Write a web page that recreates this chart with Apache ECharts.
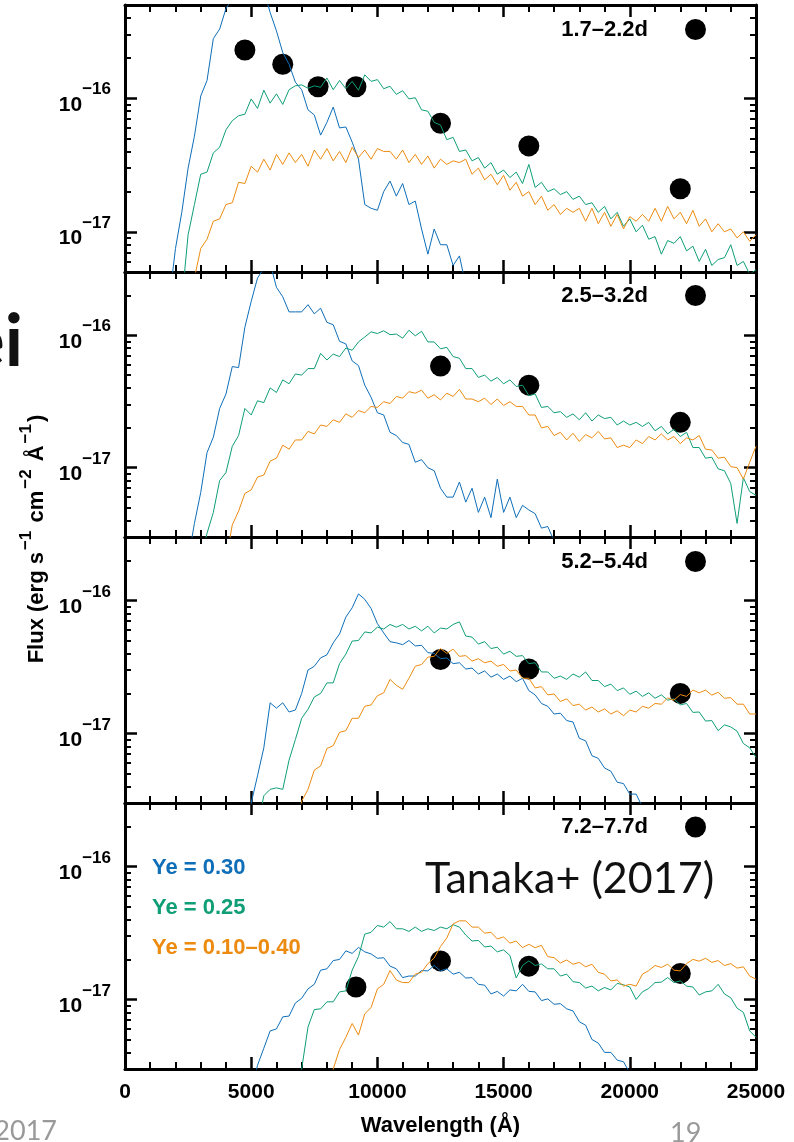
<!DOCTYPE html>
<html>
<head>
<meta charset="utf-8">
<script src="https://cdn.jsdelivr.net/npm/echarts@6/dist/echarts.min.js"></script>
<style>
html, body { margin: 0; padding: 0; background: #fff; }
#chart { width: 794px; height: 1142px; }
</style>
</head>
<body>
<div id="chart"></div>
<script>
// spectra are sampled every STEP Å, flux values below are in units of UNIT
const STEP = 250;
const UNIT = 1e-17;

const panelLabels = ['1.7–2.2d', '2.5–3.2d', '5.2–5.4d', '7.2–7.7d'];
const modelNames = ['Ye = 0.30', 'Ye = 0.25', 'Ye = 0.10–0.40'];
const modelColors = ['#0E6EB8', '#0F9E76', '#EC8B10'];
const yRanges = [[5e-18, 5e-16], [3e-18, 3e-16], [3e-18, 3e-16], [3e-18, 3e-16]];
const yMajor = [1e-17, 1e-16];

// 1.7-2.2d
const p1BlueStart = 1750;
const p1Blue = [0.3, 0.75, 1.4, 3.0, 5.2, 10.4, 13.6, 28, 33, 47, 56, 75, 82, 92, 80, 64, 44, 32, 22, 18,
  13.2, 11.6, 8.2, 7.5, 5.3, 6.6, 8.6, 6.0, 6.1, 4.7, 3.5, 1.6, 1.5, 1.45, 2.0, 2.4, 1.85, 2.3, 1.6, 1.7,
  1.05, 0.68, 1.05, 0.8, 0.8, 0.56, 0.66, 0.4, 0.3];
const p1GreenStart = 2250;
const p1Green = [0.3, 0.95, 1.6, 2.7, 2.8, 3.9, 4.3, 5.8, 6.8, 7.4, 7.6, 9.9, 8.4, 11.5, 9.2, 10.8, 9.0, 11.6, 12.4, 12.6,
  11.9, 12.4, 12.1, 14.2, 11.6, 13.6, 11.8, 13.4, 11.5, 15.0, 13.4, 13.8, 11.8, 12.3, 10.7, 11.4, 9.9, 10.1, 8.2, 8.0,
  6.6, 6.3, 4.9, 5.1, 4.0, 4.1, 3.4, 3.6, 3.0, 3.3, 2.7, 2.9, 2.55, 2.8, 2.3, 3.2, 2.15, 2.35, 2.0, 2.1,
  1.9, 2.0, 1.75, 1.85, 1.6, 1.65, 1.4, 1.55, 1.25, 1.4, 1.1, 1.25, 1.0, 1.12, 0.88, 0.92, 0.68, 0.86, 0.82, 0.92,
  0.72, 0.78, 0.6, 0.74, 0.56, 0.62, 0.64, 0.8, 0.56, 0.6, 0.48, 0.52];
const p1OrangeStart = 2750;
const p1Orange = [0.45, 0.75, 0.88, 1.2, 1.25, 1.6, 1.65, 2.35, 2.3, 3.1, 2.8, 3.5, 2.9, 3.8, 3.2, 3.9, 3.3, 3.8, 3.1, 4.1,
  3.5, 4.2, 3.4, 4.0, 3.3, 4.3, 3.6, 4.1, 3.5, 4.2, 4.0, 4.0, 3.5, 4.1, 3.3, 3.8, 3.2, 3.7, 3.0, 3.5,
  3.2, 3.4, 3.3, 3.5, 2.7, 3.0, 2.45, 2.7, 2.25, 2.65, 2.05, 2.35, 1.85, 2.0, 1.6, 1.85, 1.45, 1.6, 1.35, 1.5,
  1.4, 1.5, 1.2, 1.5, 1.15, 1.4, 1.1, 1.35, 1.05, 1.3, 1.2, 1.35, 1.2, 1.5, 1.2, 1.55, 1.25, 1.4, 1.15, 1.45,
  1.1, 1.25, 1.0, 1.15, 1.0, 1.05, 0.9, 1.0, 0.85, 0.95];

// 2.5-3.2d
const p2BlueStart = 2500;
const p2Blue = [0.2, 0.38, 0.65, 1.3, 1.7, 2.8, 3.6, 5.8, 5.7, 11.5, 18, 27, 32, 35, 23, 19.5, 15, 15, 15, 17,
  14.5, 16, 12.5, 12, 9.0, 8.6, 6.4, 5.9, 4.2, 3.4, 2.6, 2.5, 1.85, 1.75, 1.55, 1.5, 1.1, 1.15, 1.0, 0.95,
  0.7, 0.6, 0.6, 0.78, 0.55, 0.7, 0.46, 0.6, 0.42, 0.82, 0.46, 0.6, 0.42, 0.52, 0.48, 0.45, 0.35, 0.36, 0.28];
const p2GreenStart = 3000;
const p2Green = [0.2, 0.32, 0.46, 0.8, 0.92, 1.45, 1.75, 2.8, 2.5, 3.2, 3.1, 4.0, 3.7, 4.6, 4.3, 5.1, 5.0, 5.6, 5.6, 7.3,
  6.5, 7.2, 6.9, 8.0, 7.7, 8.9, 9.7, 10.6, 10.3, 10.8, 10.1, 10.2, 9.5, 10.9, 9.9, 10.7, 8.9, 8.9, 7.9, 8.1,
  6.9, 6.7, 5.6, 5.6, 4.8, 5.0, 4.5, 4.8, 4.3, 4.6, 4.1, 4.2, 3.5, 3.6, 2.85, 2.9, 2.6, 2.65, 2.4, 2.55,
  2.3, 2.6, 2.25, 2.5, 2.35, 2.4, 2.1, 2.25, 2.1, 2.2, 2.05, 2.2, 1.9, 2.05, 1.8, 1.95, 1.72, 1.85, 1.42, 1.42,
  1.18, 1.2, 0.98, 0.95, 0.76, 0.38, 0.84, 0.66, 0.62];
const p2OrangeStart = 4000;
const p2Orange = [0.2, 0.37, 0.47, 0.64, 0.68, 0.85, 0.88, 1.12, 1.18, 1.48, 1.38, 1.62, 1.62, 1.88, 1.8, 2.1, 2.05, 2.3, 2.2, 2.55,
  2.4, 2.7, 2.6, 2.9, 2.85, 3.15, 3.05, 3.45, 3.35, 3.75, 3.65, 3.85, 3.35, 3.55, 3.25, 3.65, 3.45, 3.9, 3.3, 3.3,
  3.15, 3.35, 3.0, 3.3, 2.95, 3.15, 2.9, 2.9, 2.5, 2.5, 2.0, 2.05, 1.75, 1.85, 1.62, 1.82, 1.58, 1.78, 1.68, 1.88,
  1.65, 1.68, 1.42, 1.48, 1.42, 1.62, 1.52, 1.72, 1.62, 1.8, 1.62, 1.72, 1.52, 1.68, 1.62, 1.75, 1.38, 1.36, 1.18, 1.2,
  1.02, 1.0, 0.82, 1.1, 1.45];

// 5.2-5.4d
const p3BlueStart = 4750;
const p3Blue = [0.2, 0.3, 0.48, 0.78, 1.7, 1.55, 1.7, 1.45, 1.5, 2.0, 3.0, 3.2, 3.7, 3.9, 4.8, 5.6, 7.5, 8.8, 11.2, 10.2,
  8.7, 6.7, 5.7, 4.9, 4.8, 4.65, 5.0, 4.55, 4.6, 4.05, 4.0, 3.65, 3.7, 3.35, 3.4, 3.05, 3.1, 2.8, 2.95, 2.65,
  2.8, 2.55, 2.7, 2.45, 2.6, 2.1, 1.95, 1.68, 1.6, 1.4, 1.42, 1.25, 1.22, 0.92, 0.88, 0.68, 0.65, 0.55, 0.52, 0.43,
  0.42, 0.35, 0.35, 0.28];
const p3GreenStart = 5250;
const p3Green = [0.2, 0.34, 0.38, 0.39, 0.38, 0.63, 0.9, 1.3, 1.52, 1.88, 2.0, 2.4, 2.4, 3.35, 3.95, 4.95, 5.0, 5.8, 5.7, 6.3,
  6.1, 6.6, 6.3, 6.6, 6.1, 6.4, 5.9, 6.4, 5.7, 6.2, 6.1, 6.6, 6.9, 5.4, 5.3, 4.7, 4.9, 4.35, 4.45, 3.95,
  4.15, 3.8, 3.85, 3.35, 3.4, 2.9, 2.9, 2.6, 2.7, 2.55, 2.8, 2.65, 2.9, 2.5, 2.5, 2.25, 2.35, 2.1, 2.2, 1.97,
  2.08, 1.9, 2.02, 1.84, 1.95, 1.78, 1.82, 1.64, 1.68, 1.44, 1.45, 1.24, 1.25, 1.05, 1.16, 1.12, 1.04, 0.84, 0.78, 0.66];
const p3OrangeStart = 6750;
const p3Orange = [0.2, 0.31, 0.38, 0.53, 0.57, 0.77, 0.81, 1.02, 1.05, 1.3, 1.3, 1.6, 1.64, 1.92, 2.02, 2.55, 2.3, 2.15, 2.6, 3.2,
  3.3, 3.75, 3.8, 4.35, 4.0, 4.3, 3.8, 3.85, 3.5, 3.65, 3.4, 3.5, 3.2, 3.3, 2.95, 3.0, 2.6, 2.6, 2.2, 2.25,
  1.95, 1.98, 1.74, 1.82, 1.62, 1.66, 1.5, 1.58, 1.45, 1.53, 1.4, 1.48, 1.36, 1.5, 1.45, 1.6, 1.55, 1.68, 1.66, 1.85,
  1.78, 1.96, 1.9, 2.12, 2.02, 2.12, 1.94, 2.04, 1.84, 1.86, 1.66, 1.66, 1.4, 1.4];

// 7.2-7.7d
const p4BlueStart = 5000;
const p4Blue = [0.2, 0.32, 0.43, 0.58, 0.6, 0.74, 0.75, 0.94, 1.02, 1.2, 1.3, 1.66, 1.7, 1.96, 2.0, 2.32, 2.22, 2.46, 2.28, 2.2,
  2.04, 2.06, 1.78, 1.7, 1.46, 1.5, 1.5, 1.65, 1.64, 1.8, 1.64, 1.7, 1.55, 1.6, 1.45, 1.46, 1.3, 1.28, 1.1, 1.15,
  1.06, 1.18, 1.16, 1.3, 1.15, 1.14, 0.98, 1.01, 0.92, 0.93, 0.85, 0.82, 0.68, 0.64, 0.5, 0.47, 0.4, 0.4, 0.35, 0.34,
  0.28];
const p4GreenStart = 6750;
const p4Green = [0.2, 0.3, 0.62, 0.84, 0.85, 0.96, 0.96, 1.14, 1.16, 1.66, 2.1, 3.1, 3.2, 3.6, 3.5, 3.85, 3.4, 3.4, 3.25, 3.5,
  3.25, 3.4, 3.3, 3.5, 3.4, 3.65, 3.5, 3.05, 2.75, 2.78, 2.48, 2.52, 2.28, 2.36, 2.14, 1.45, 1.8, 1.95, 1.8, 1.85,
  1.7, 1.7, 1.5, 1.55, 1.36, 1.34, 1.22, 1.26, 1.16, 1.23, 1.18, 1.32, 1.29, 1.24, 1.0, 1.14, 1.21, 1.34, 1.35, 1.46,
  1.34, 1.38, 1.26, 1.24, 1.08, 1.14, 1.16, 1.3, 1.1, 1.03, 0.86, 0.8, 0.58, 0.52];
const p4OrangeStart = 8000;
const p4Orange = [0.2, 0.3, 0.42, 0.52, 0.66, 0.54, 0.78, 0.87, 1.2, 1.3, 1.65, 1.4, 1.34, 1.34, 1.55, 1.6, 1.86, 2.05, 2.5, 2.9,
  3.7, 3.9, 3.9, 3.5, 3.5, 3.15, 3.2, 2.85, 2.95, 2.65, 2.75, 2.45, 2.6, 2.45, 2.55, 2.1, 2.06, 1.88, 1.98, 1.84,
  1.9, 1.76, 1.84, 1.6, 1.55, 1.38, 1.4, 1.26, 1.3, 1.26, 1.55, 1.65, 1.8, 1.74, 1.84, 1.66, 1.64, 1.86, 2.0, 1.94,
  2.04, 1.9, 1.96, 1.8, 1.86, 1.72, 1.76, 1.5, 1.42];

// observed photometry (black dots)
const obsWave1 = [4750, 6250, 7650, 9150, 12500, 16000, 22000];
const obsFlux1 = [23, 18, 12.2, 12.2, 6.5, 4.4, 2.1];
const obsWave2 = [12500, 16000, 22000];
const obsFlux2 = [5.85, 4.2, 2.2];
const obsWave3 = [12500, 16000, 22000];
const obsFlux3 = [3.6, 3.05, 2.0];
const obsWave4 = [9150, 12500, 16000, 22000];
const obsFlux4 = [1.24, 1.95, 1.78, 1.57];

const spectra = [
  [[p1BlueStart, p1Blue], [p1GreenStart, p1Green], [p1OrangeStart, p1Orange]],
  [[p2BlueStart, p2Blue], [p2GreenStart, p2Green], [p2OrangeStart, p2Orange]],
  [[p3BlueStart, p3Blue], [p3GreenStart, p3Green], [p3OrangeStart, p3Orange]],
  [[p4BlueStart, p4Blue], [p4GreenStart, p4Green], [p4OrangeStart, p4Orange]]
];
const observations = [[obsWave1, obsFlux1], [obsWave2, obsFlux2], [obsWave3, obsFlux3], [obsWave4, obsFlux4]];

const gridTops = [5, 272, 537, 803];
const gridHeights = [267, 265, 266, 266];
const labelTops = [18.5, 284.5, 550.5, 816];

const FONT = 'Liberation Sans';
const black = '#000';

function minorTicks(range) {
  const out = [];
  for (let e = -19; e <= -15; e++) {
    for (let m = 2; m <= 9; m++) {
      const v = m * Math.pow(10, e);
      if (v > range[0] * 1.001 && v < range[1] * 0.999) out.push(v);
    }
  }
  return out;
}

const chart = echarts.init(document.getElementById('chart'));

const grid = [], xAxis = [], yAxis = [], series = [];

gridTops.forEach(function (top, k) {
  grid.push({ left: 125, right: 38, top: top, height: gridHeights[k] });

  ['bottom', 'top'].forEach(function (pos) {
    const showLabel = pos === 'bottom' && k === 3;
    xAxis.push({
      type: 'value', gridIndex: k, position: pos, min: 0, max: 25000, interval: 5000,
      axisLine: { onZero: false, lineStyle: { color: black, width: 3 } },
      axisTick: { inside: true, length: 12, lineStyle: { color: black, width: 2.5 } },
      minorTick: { show: true, splitNumber: 5, length: 7, lineStyle: { color: black, width: 2 } },
      splitLine: { show: false },
      axisLabel: {
        show: showLabel, margin: 13, color: black, fontFamily: FONT, fontWeight: 'bold', fontSize: 21,
        formatter: function (v) { return String(v); }
      },
      name: showLabel ? 'Wavelength (Å)' : '',
      nameLocation: 'middle', nameGap: 46,
      nameTextStyle: { color: black, fontFamily: FONT, fontWeight: 'bold', fontSize: 22 }
    });
  });

  const range = yRanges[k];
  const minors = minorTicks(range);
  ['left', 'right'].forEach(function (pos) {
    yAxis.push({
      type: 'log', gridIndex: k, position: pos, min: range[0], max: range[1],
      axisLine: { show: true, lineStyle: { color: black, width: 3 } },
      axisTick: { inside: true, length: 12, customValues: yMajor, lineStyle: { color: black, width: 2.5 } },
      splitLine: { show: false },
      axisLabel: {
        show: pos === 'left', customValues: yMajor, margin: 14,
        formatter: function (v) {
          return '{b|10}{s|−' + (-Math.round(Math.log10(v))) + '}';
        },
        rich: {
          b: { fontFamily: FONT, fontWeight: 'bold', fontSize: 21, lineHeight: 34, verticalAlign: 'bottom', color: black },
          s: { fontFamily: FONT, fontWeight: 'bold', fontSize: 17, lineHeight: 17, verticalAlign: 'top', color: black }
        }
      }
    });
    yAxis.push({
      type: 'log', gridIndex: k, position: pos, min: range[0], max: range[1],
      axisLine: { show: false },
      axisTick: { inside: true, length: 6, customValues: minors, lineStyle: { color: black, width: 2 } },
      splitLine: { show: false },
      axisLabel: { show: false }
    });
  });

  spectra[k].forEach(function (s, m) {
    const start = s[0];
    series.push({
      type: 'line', name: modelNames[m], xAxisIndex: 2 * k, yAxisIndex: 4 * k,
      showSymbol: false, symbol: 'none', silent: true,
      lineStyle: { color: modelColors[m], width: 1 },
      itemStyle: { color: modelColors[m] },
      data: s[1].map(function (v, i) { return [start + i * STEP, v * UNIT]; })
    });
  });

  const obs = observations[k];
  series.push({
    type: 'scatter', name: panelLabels[k], xAxisIndex: 2 * k, yAxisIndex: 4 * k,
    symbol: 'circle', symbolSize: 21, itemStyle: { color: black, opacity: 1 },
    data: obs[0].map(function (w, i) { return [w, obs[1][i] * UNIT]; })
  });
});

const legend = [{
  data: modelNames.map(function (n, i) { return { name: n, textStyle: { color: modelColors[i] } }; }),
  orient: 'vertical', left: 147, top: 857, padding: 0, itemGap: 18,
  icon: 'rect', itemWidth: 0, itemHeight: 22, selectedMode: false,
  textStyle: { fontFamily: FONT, fontWeight: 'bold', fontSize: 22 }
}];
panelLabels.forEach(function (lab, k) {
  legend.push({
    data: [lab], right: 88, top: labelTops[k], padding: 0, align: 'right',
    icon: 'circle', itemWidth: 21, itemHeight: 21, selectedMode: false,
    itemStyle: { color: black, opacity: 1 },
    textStyle: { fontFamily: FONT, fontWeight: 'bold', fontSize: 22, color: black, padding: [0, 32, 0, 0] }
  });
});

chart.setOption({
  animation: false,
  backgroundColor: '#fff',
  grid: grid,
  xAxis: xAxis,
  yAxis: yAxis,
  legend: legend,
  series: series,
  graphic: [
    {
      type: 'text', x: 33, y: 539, rotation: Math.PI / 2,
      style: {
        text: '{m|Flux (erg s}{s|−1}{m| cm}{s|−2}{m| Å}{s|−1}{m|)}',
        align: 'center', verticalAlign: 'middle',
        rich: {
          m: { fontFamily: FONT, fontWeight: 'bold', fontSize: 22, lineHeight: 30, verticalAlign: 'bottom', fill: black },
          s: { fontFamily: FONT, fontWeight: 'bold', fontSize: 17, lineHeight: 15, verticalAlign: 'top', fill: black, padding: [0, 2, 0, 2] }
        }
      }
    },
    {
      type: 'text', x: 23, y: 343,
      style: { text: 'ei', font: 'bold 72px Lato', fill: '#111', align: 'right', verticalAlign: 'middle' }
    },
    {
      type: 'text', x: 425, y: 879,
      style: { text: 'Tanaka+ (2017)', font: '43px Lato', fill: '#111', align: 'left', verticalAlign: 'middle' }
    },
    {
      type: 'text', x: 57, y: 1131,
      style: { text: '2017', font: '27px Lato', fill: '#999', align: 'right', verticalAlign: 'middle' }
    },
    {
      type: 'text', x: 670, y: 1133,
      style: { text: '19', font: '27px Lato', fill: '#999', align: 'left', verticalAlign: 'middle' }
    }
  ]
});
</script>
</body>
</html>
